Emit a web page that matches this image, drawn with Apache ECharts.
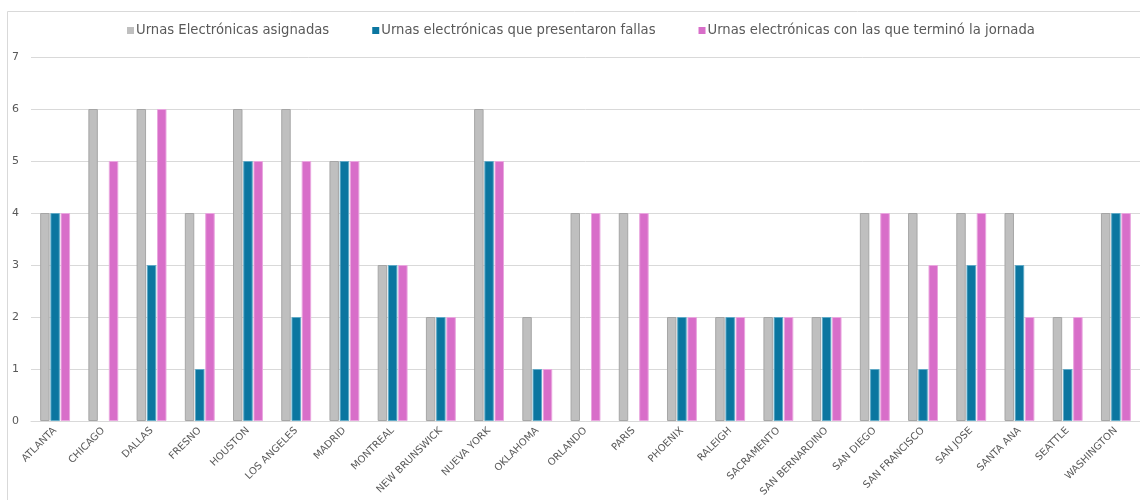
<!DOCTYPE html>
<html>
<head>
<meta charset="utf-8">
<script src="https://cdn.jsdelivr.net/npm/echarts@6/dist/echarts.min.js"></script>
<style>
  html, body { margin: 0; padding: 0; background: #ffffff; }
  #chart { width: 1140px; height: 500px; }
</style>
</head>
<body>
<div id="chart"></div>
<script>
// Ciudades
const ciudades = [
  'ATLANTA', 'CHICAGO', 'DALLAS', 'FRESNO', 'HOUSTON', 'LOS ANGELES', 'MADRID',
  'MONTREAL', 'NEW BRUNSWICK', 'NUEVA YORK', 'OKLAHOMA', 'ORLANDO', 'PARIS',
  'PHOENIX', 'RALEIGH', 'SACRAMENTO', 'SAN BERNARDINO', 'SAN DIEGO',
  'SAN FRANCISCO', 'SAN JOSE', 'SANTA ANA', 'SEATTLE', 'WASHINGTON'
];

const nombreAsignadas = 'Urnas Electrónicas asignadas';
const nombreFallas = 'Urnas electrónicas que presentaron fallas';
const nombreTermino = 'Urnas electrónicas con las que terminó la jornada';

const asignadas = [4, 6, 6, 4, 6, 6, 5, 3, 2, 6, 2, 4, 4, 2, 2, 2, 2, 4, 4, 4, 4, 2, 4];
const fallas    = [4, 0, 3, 1, 5, 2, 5, 3, 2, 5, 1, 0, 0, 2, 2, 2, 2, 1, 1, 3, 3, 1, 4];
const termino   = [4, 5, 6, 4, 5, 5, 5, 3, 2, 5, 1, 4, 4, 2, 2, 2, 2, 4, 3, 4, 2, 2, 4];

const FONT = '"Century Gothic", "DejaVu Sans", sans-serif';

const chart = echarts.init(document.getElementById('chart'), null, { renderer: 'canvas' });

// Bars with value 0 get no outline so nothing is drawn on the baseline
function barSeries(name, values, fill, edge) {
  return {
    name: name,
    type: 'bar',
    data: values.map(v => v === 0 ? { value: v, itemStyle: { borderWidth: 0 } } : v),
    barGap: '8%',
    barCategoryGap: '38%',
    itemStyle: { color: fill, borderColor: edge, borderWidth: 1 },
    emphasis: { disabled: true }
  };
}

chart.setOption({
  animation: false,
  backgroundColor: '#ffffff',
  graphic: [{
    type: 'rect',
    shape: { x: 7.5, y: 11.5, width: 1200, height: 600 },
    style: { fill: 'none', stroke: '#d9d9d9', lineWidth: 1 },
    silent: true
  }],
  legend: {
    top: 19,
    left: 122,
    itemWidth: 7,
    itemHeight: 7,
    itemGap: 43,
    icon: 'rect',
    itemStyle: { borderWidth: 0 },
    textStyle: { color: '#595959', fontFamily: FONT, fontSize: 13.2, padding: [0, 0, 0, -3] },
    data: [nombreAsignadas, nombreFallas, nombreTermino]
  },
  grid: { left: 31, right: -1, top: 57, bottom: 79, containLabel: false },
  xAxis: {
    type: 'category',
    data: ciudades,
    axisLine: { show: true, lineStyle: { color: '#d9d9d9', width: 1 } },
    axisTick: { show: false },
    axisLabel: {
      interval: 0,
      rotate: 45,
      margin: 8,
      color: '#595959',
      fontFamily: FONT,
      fontSize: 10
    }
  },
  yAxis: {
    type: 'value',
    min: 0,
    max: 7,
    interval: 1,
    axisLine: { show: false },
    axisTick: { show: false },
    splitLine: { lineStyle: { color: '#d9d9d9', width: 1 } },
    axisLabel: { color: '#595959', fontFamily: FONT, fontSize: 11, margin: 12 }
  },
  series: [
    barSeries(nombreAsignadas, asignadas, '#bfbfbf', '#a6a6a6'),
    barSeries(nombreFallas, fallas, '#0b76a0', '#5fa9c6'),
    barSeries(nombreTermino, termino, '#d86ec9', '#e9a6df')
  ]
});
</script>
</body>
</html>
